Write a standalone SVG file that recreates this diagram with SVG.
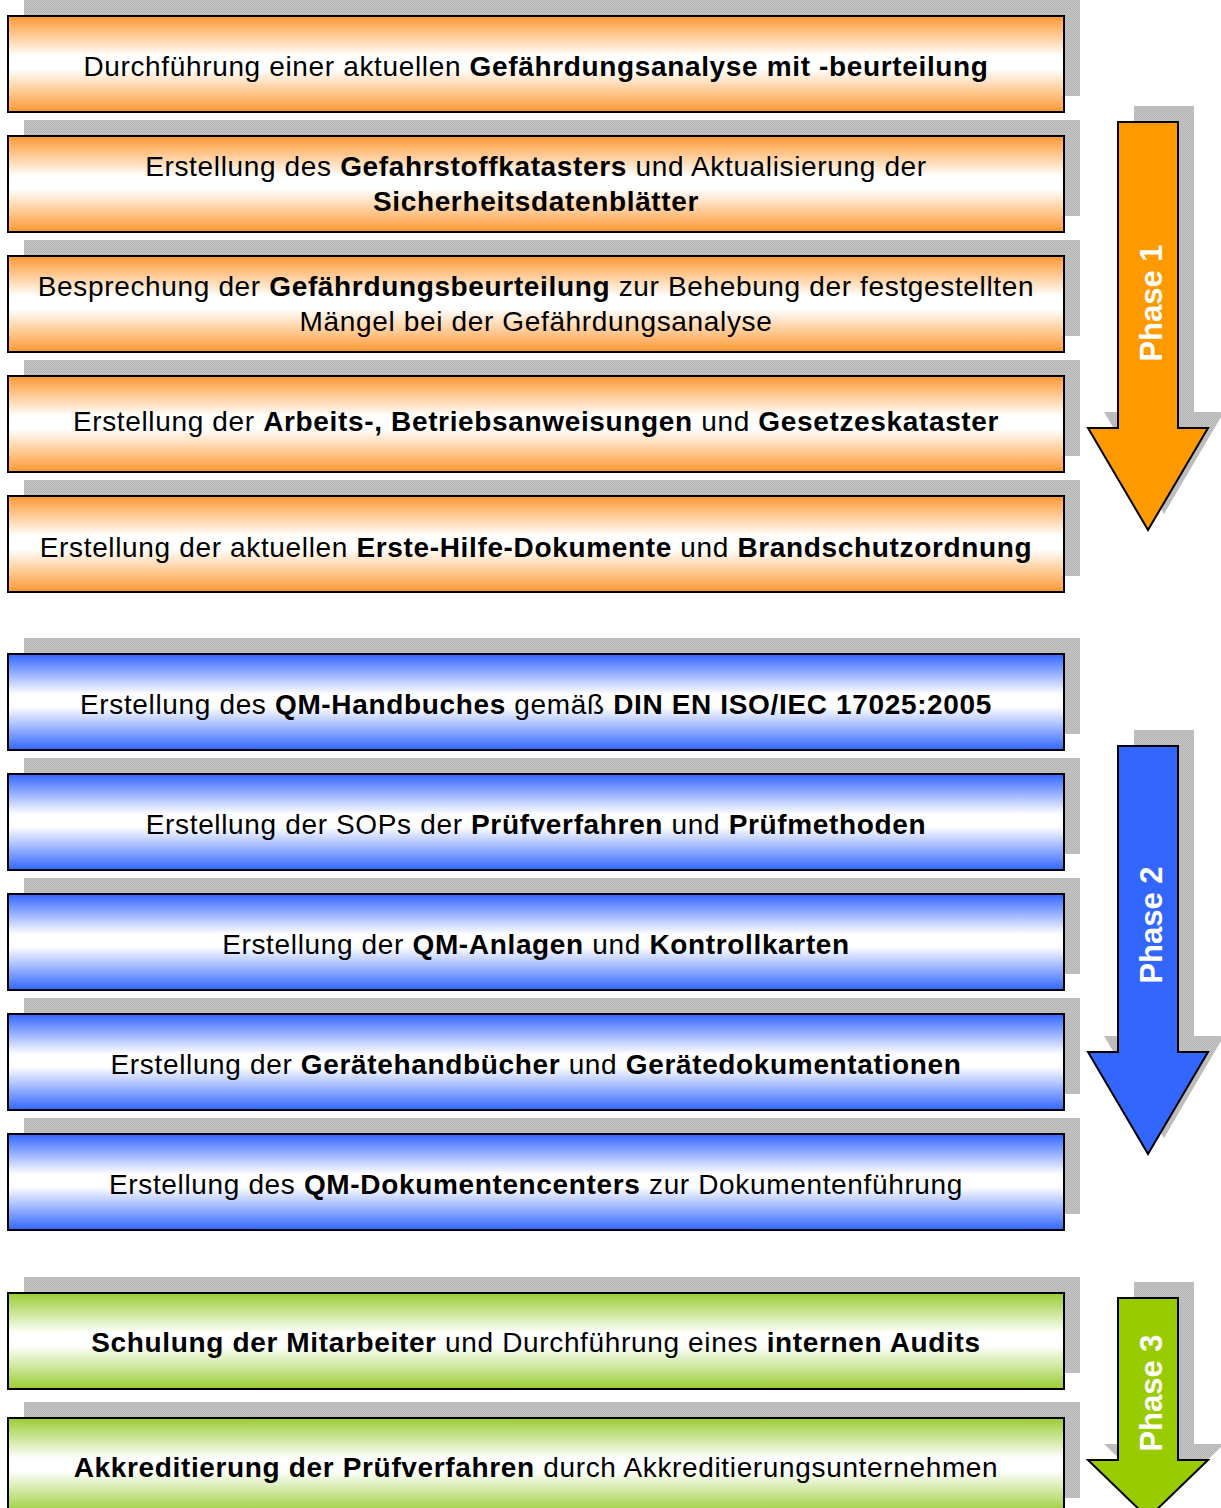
<svg xmlns="http://www.w3.org/2000/svg" width="1221" height="1508" viewBox="0 0 1221 1508">
<defs>
<pattern id="chk" width="2" height="2" patternUnits="userSpaceOnUse">
<rect width="2" height="2" fill="#c4c4c4"/>
<rect width="1" height="1" fill="#b6b6b6"/>
<rect x="1" y="1" width="1" height="1" fill="#b6b6b6"/>
</pattern>
<linearGradient id="gO" x1="0" y1="0" x2="0" y2="1">
<stop offset="0" stop-color="#FF9933"/><stop offset="0.42" stop-color="#FFFFFF"/><stop offset="0.55" stop-color="#FFFFFF"/><stop offset="1" stop-color="#FF9933"/>
</linearGradient>
<linearGradient id="gB" x1="0" y1="0" x2="0" y2="1">
<stop offset="0" stop-color="#3366FF"/><stop offset="0.42" stop-color="#FFFFFF"/><stop offset="0.55" stop-color="#FFFFFF"/><stop offset="1" stop-color="#3366FF"/>
</linearGradient>
<linearGradient id="gG" x1="0" y1="0" x2="0" y2="1">
<stop offset="0" stop-color="#99CC33"/><stop offset="0.42" stop-color="#FFFFFF"/><stop offset="0.55" stop-color="#FFFFFF"/><stop offset="1" stop-color="#99CC33"/>
</linearGradient>
</defs>
<style>
.sh{fill:url(#chk)}
.bx{stroke:#000;stroke-width:2}
.o{fill:url(#gO)}
.b{fill:url(#gB)}
.g{fill:url(#gG)}
.t{font-family:"Liberation Sans",Arial,sans-serif;font-size:28px;letter-spacing:0.65px;fill:#000;text-anchor:middle}
.t tspan.k{font-weight:bold}
.ar{stroke:#000;stroke-width:2;stroke-linejoin:miter}
.ph{font-family:"Liberation Sans",Arial,sans-serif;font-size:31px;font-weight:bold;fill:#fff;text-anchor:middle}
</style>
<rect width="1221" height="1508" fill="#fff"/>

<g id="shadows">
<rect class="sh" x="24" y="0" width="1056" height="96"/>
<rect class="sh" x="24" y="120" width="1056" height="96"/>
<rect class="sh" x="24" y="240" width="1056" height="96"/>
<rect class="sh" x="24" y="360" width="1056" height="96"/>
<rect class="sh" x="24" y="480" width="1056" height="96"/>
<rect class="sh" x="24" y="638" width="1056" height="96"/>
<rect class="sh" x="24" y="758" width="1056" height="96"/>
<rect class="sh" x="24" y="878" width="1056" height="96"/>
<rect class="sh" x="24" y="998" width="1056" height="96"/>
<rect class="sh" x="24" y="1118" width="1056" height="96"/>
<rect class="sh" x="24" y="1277" width="1056" height="96"/>
<rect class="sh" x="24" y="1402" width="1056" height="96"/>
<polygon class="sh" points="1134,106 1194,106 1194,412 1224,412 1164,514 1104,412 1134,412"/>
<polygon class="sh" points="1134,730 1194,730 1194,1036 1224,1036 1164,1138 1104,1036 1134,1036"/>
<polygon class="sh" points="1134,1282 1194,1282 1194,1444 1224,1444 1164,1502 1104,1444 1134,1444"/>
</g>

<g id="n1"><rect class="bx o" x="8" y="16" width="1056" height="96"/>
<text class="t" x="536" y="76">Durchführung einer aktuellen <tspan class="k">Gefährdungsanalyse mit -beurteilung</tspan></text></g>
<g id="n2"><rect class="bx o" x="8" y="136" width="1056" height="96"/>
<text class="t" x="536" y="176">Erstellung des <tspan class="k">Gefahrstoffkatasters</tspan> und Aktualisierung der</text>
<text class="t" x="536" y="211"><tspan class="k">Sicherheitsdatenblätter</tspan></text></g>
<g id="n3"><rect class="bx o" x="8" y="256" width="1056" height="96"/>
<text class="t" x="536" y="296">Besprechung der <tspan class="k">Gefährdungsbeurteilung</tspan> zur Behebung der festgestellten</text>
<text class="t" x="536" y="331">Mängel bei der Gefährdungsanalyse</text></g>
<g id="n4"><rect class="bx o" x="8" y="376" width="1056" height="96"/>
<text class="t" x="536" y="431">Erstellung der <tspan class="k">Arbeits-, Betriebsanweisungen</tspan> und <tspan class="k">Gesetzeskataster</tspan></text></g>
<g id="n5"><rect class="bx o" x="8" y="496" width="1056" height="96"/>
<text class="t" x="536" y="557">Erstellung der aktuellen <tspan class="k">Erste-Hilfe-Dokumente</tspan> und <tspan class="k">Brandschutzordnung</tspan></text></g>

<g id="n6"><rect class="bx b" x="8" y="654" width="1056" height="96"/>
<text class="t" x="536" y="714">Erstellung des <tspan class="k">QM-Handbuches</tspan> gemäß <tspan class="k">DIN EN ISO/IEC 17025:2005</tspan></text></g>
<g id="n7"><rect class="bx b" x="8" y="774" width="1056" height="96"/>
<text class="t" x="536" y="834">Erstellung der SOPs der <tspan class="k">Prüfverfahren</tspan> und <tspan class="k">Prüfmethoden</tspan></text></g>
<g id="n8"><rect class="bx b" x="8" y="894" width="1056" height="96"/>
<text class="t" x="536" y="954">Erstellung der <tspan class="k">QM-Anlagen</tspan> und <tspan class="k">Kontrollkarten</tspan></text></g>
<g id="n9"><rect class="bx b" x="8" y="1014" width="1056" height="96"/>
<text class="t" x="536" y="1074">Erstellung der <tspan class="k">Gerätehandbücher</tspan> und <tspan class="k">Gerätedokumentationen</tspan></text></g>
<g id="n10"><rect class="bx b" x="8" y="1134" width="1056" height="96"/>
<text class="t" x="536" y="1194">Erstellung des <tspan class="k">QM-Dokumentencenters</tspan> zur Dokumentenführung</text></g>

<g id="n11"><rect class="bx g" x="8" y="1293" width="1056" height="96"/>
<text class="t" x="536" y="1352"><tspan class="k">Schulung der Mitarbeiter</tspan> und Durchführung eines <tspan class="k">internen Audits</tspan></text></g>
<g id="n12"><rect class="bx g" x="8" y="1418" width="1056" height="96"/>
<text class="t" x="536" y="1477"><tspan class="k">Akkreditierung der Prüfverfahren</tspan> durch Akkreditierungsunternehmen</text></g>

<g id="connectors">
<g id="phase1"><polygon class="ar" fill="#FF9900" points="1118,122 1178,122 1178,428 1208,428 1148,530 1088,428 1118,428"/>
<text class="ph" transform="translate(1162,303) rotate(-90)">Phase 1</text></g>
<g id="phase2"><polygon class="ar" fill="#3366FF" points="1118,746 1178,746 1178,1052 1208,1052 1148,1154 1088,1052 1118,1052"/>
<text class="ph" transform="translate(1162,925) rotate(-90)">Phase 2</text></g>
<g id="phase3"><polygon class="ar" fill="#99CC00" points="1118,1298 1178,1298 1178,1460 1208,1460 1148,1518 1088,1460 1118,1460"/>
<text class="ph" transform="translate(1162,1393) rotate(-90)">Phase 3</text></g>
</g>
</svg>
